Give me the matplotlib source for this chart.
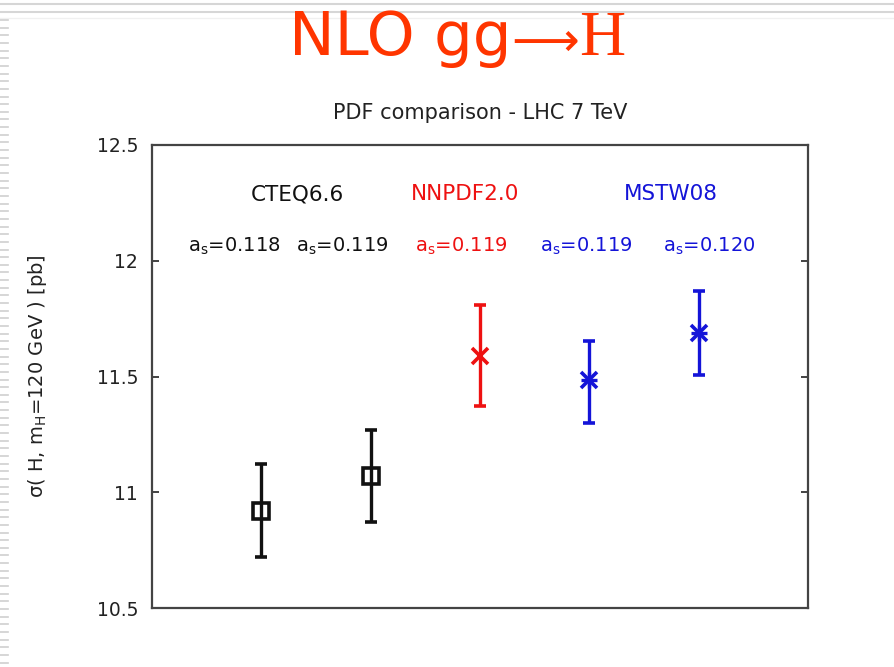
import matplotlib.pyplot as plt
from matplotlib.lines import Line2D

# sigma(gg->H) at NLO for m_H = 120 GeV, LHC 7 TeV, per PDF set
pdf_sets = ["CTEQ6.6", "NNPDF2.0", "MSTW08"]
alpha_labels = ["0.118", "0.119", "0.119", "0.119", "0.120"]
xpos = [1, 2, 3, 4, 5]
sigma = [10.92, 11.07, 11.59, 11.485, 11.69]
sigma_hi = [11.12, 11.27, 11.81, 11.653, 11.87]
sigma_lo = [10.72, 10.87, 11.373, 11.30, 11.506]

black = "#111111"
red = "#ee1111"
blue = "#1414d8"

fig = plt.figure(figsize=(8.95, 6.67), dpi=100)
plt.rcParams['font.family'] = 'DejaVu Sans'

# slide decoration: rules along the top and a comb down the left edge
for yy in [4, 12]:
    fig.add_artist(Line2D([0, 1], [1 - yy / 667, 1 - yy / 667], color="#d6d6d6", lw=1.5))
fig.add_artist(Line2D([0, 1], [1 - 18 / 667, 1 - 18 / 667], color="#f0f0f0", lw=1))
yy = 20
while yy < 667:
    fig.add_artist(Line2D([0, 8 / 895], [1 - yy / 667, 1 - yy / 667], color="#cfcfcf", lw=1.2))
    yy += 7.65

# slide heading: sans "NLO gg", thin long arrow, serif H
orange = "#ff3500"
base = 1 - 55 / 667
t1 = fig.text(0, base, "NLO gg", fontsize=44, color=orange, family="DejaVu Sans")
t2 = fig.text(0, base - 1 / 667, "\u27f6", fontsize=34, color=orange, family="DejaVu Sans")
t3 = fig.text(0, base, "H", fontsize=46, color=orange, family="Liberation Serif")
fig.canvas.draw()
r = fig.canvas.get_renderer()
ws = [t.get_window_extent(r).width for t in (t1, t2, t3)]
x0 = 457 - sum(ws) / 2
for t, w in zip((t1, t2, t3), ws):
    t.set_x(x0 / 895)
    x0 += w

ax = fig.add_axes([152 / 895, 1 - 608 / 667, 656 / 895, 463 / 667])

colors = [black, black, red, blue, blue]
markers = ["s", "s", "x", "x", "x"]
for i in range(5):
    err = [[sigma[i] - sigma_lo[i]], [sigma_hi[i] - sigma[i]]]
    ax.errorbar(xpos[i], sigma[i], yerr=err, color=colors[i], lw=2.4,
                capsize=4, capthick=2.4, marker=markers[i], ms=12 if i < 2 else 11,
                mfc="none", mew=2.6)
# blue points use an asterisk: x plus +
ax.plot(xpos[3:], sigma[3:], ls="none", marker="+", ms=12, mew=2.4, color=blue)

ax.set_xlim(0, 6)
ax.set_ylim(10.5, 12.5)
ax.set_xticks([])
ax.set_yticks([10.5, 11, 11.5, 12, 12.5])
ax.set_yticklabels(["10.5", "11", "11.5", "12", "12.5"])
ax.tick_params(axis="y", direction="in", left=True, right=True, length=5,
               width=1.2, pad=10, labelsize=13.5, colors="#222222")
for sp in ax.spines.values():
    sp.set_color("#444444")
    sp.set_linewidth(1.6)

ax.set_title("PDF comparison - LHC 7 TeV", fontsize=15, color="#222222", pad=19)
ax.set_ylabel("\u03c3( H, m$_\\mathregular{H}$=120 GeV ) [pb]", fontsize=14, color="#222222")
ax.yaxis.set_label_coords(-0.157, 0.5)

# PDF set names and alpha_s values
ax.text(1.33, 12.262, pdf_sets[0], color=black, fontsize=15.5, ha="center")
ax.text(2.86, 12.262, pdf_sets[1], color=red, fontsize=15.5, ha="center")
ax.text(4.75, 12.262, pdf_sets[2], color=blue, fontsize=15.5, ha="center")
label_x = [0.75, 1.74, 2.83, 3.97, 5.10]
for i in range(5):
    ax.text(label_x[i], 12.04, r"$\mathregular{a_s}$=" + alpha_labels[i],
            color=colors[i], fontsize=14, ha="center")

fig.savefig("out.png", dpi=100)
